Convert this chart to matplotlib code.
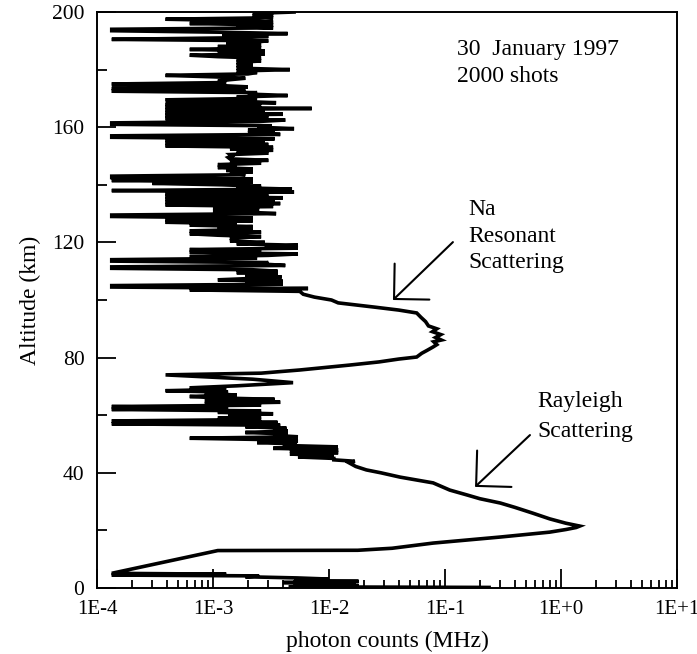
import matplotlib
matplotlib.use("Agg")
import matplotlib.pyplot as plt
from matplotlib.ticker import FixedLocator, FuncFormatter, NullFormatter

# ---- data (altitude in km, photon counts in MHz) ----
ground_alt = [0.2, 0.4, 0.8, 1.1, 1.5, 1.9, 2.3, 2.7, 3.1, 3.5, 3.9, 4.2, 4.5, 4.8, 5.1]
ground_cnt = [0.24, 4.5e-3, 0.018, 5e-3, 0.017, 4e-3, 0.018, 5e-3, 0.010, 5.3e-3, 1.9e-3, 2.5e-3,
              1.34e-4, 1.3e-3, 1.34e-4]

rayleigh_alt = [13.0, 13.1, 13.8, 15.6, 16.6, 17.7, 18.6, 19.4, 20.3, 21.0, 21.5,
                22.5, 24.0, 26.0, 28.0, 29.5, 31.0, 32.3, 34.0, 36.5, 38.5, 40.0, 41.0, 42.2, 43.4]
rayleigh_cnt = [1.1e-3, 0.0177, 0.035, 0.079, 0.15, 0.30, 0.50, 0.80, 1.10, 1.35, 1.45,
                1.10, 0.80, 0.57, 0.40, 0.30, 0.20, 0.155, 0.11, 0.079, 0.041, 0.028, 0.021, 0.017, 0.015]

lower_noise_alt = [44.0, 44.5, 45.0, 45.5, 46.0, 46.5, 47.0, 47.5, 48.0, 48.5, 49.0, 49.5,
                   50.0, 50.5, 51.0, 51.5, 52.0, 52.5, 53.0, 53.5, 54.0, 54.5, 55.0, 55.5,
                   56.0, 56.5, 57.0, 57.5, 58.0, 58.5, 59.0, 59.5, 60.0, 60.5, 61.0, 61.5,
                   62.0, 62.5, 63.0, 63.5, 64.0, 64.5, 65.0, 65.5, 66.0, 66.5, 67.0, 67.5,
                   68.0, 68.5, 69.0, 69.5, 70.2, 71.3, 72.5, 74.0]
lower_noise_cnt = [0.0167, 0.011, 0.011, 5.4e-3, 0.011, 4.6e-3, 0.012, 4.6e-3, 0.012, 3.3e-3, 0.0119, 4.0e-3,
                   5.3e-3, 2.4e-3, 5.4e-3, 3.3e-3, 6.3e-4, 5.4e-3, 3.3e-3, 4.4e-3, 1.9e-3, 4.4e-3, 3.3e-3, 4.3e-3,
                   1.9e-3, 3.8e-3, 1.34e-4, 3.6e-3, 1.34e-4, 2.6e-3, 1.1e-3, 2.6e-3, 1.35e-3, 3.3e-3, 1.1e-3, 2.6e-3,
                   1.34e-4, 1.35e-3, 1.34e-4, 2.6e-3, 8.5e-4, 3.8e-3, 8.5e-4, 3.4e-3, 1.1e-3, 6.3e-4, 1.6e-3, 8.5e-4,
                   1.35e-3, 3.9e-4, 1.3e-3, 6.3e-4, 1.6e-3, 4.9e-3, 2.2e-3, 3.9e-4]

na_alt = [74.6, 75.7, 76.5, 77.4, 78.5, 79.5, 80.2, 81.5, 82.5, 83.7, 84.5, 85.5, 86.1, 87.0,
          88.0, 89.0, 90.0, 91.0, 92.5, 94.0, 95.5, 96.5, 97.5, 99.0, 100.0, 101.0, 102.0, 103.0]
na_cnt = [2.6e-3, 5.6e-3, 9e-3, 0.015, 0.027, 0.040, 0.057, 0.063, 0.070, 0.079, 0.085, 0.080, 0.093, 0.083,
          0.092, 0.078, 0.085, 0.072, 0.068, 0.062, 0.057, 0.040, 0.025, 0.012, 0.0105, 7.5e-3, 6.0e-3, 5.6e-3]

upper_noise_alt = [103.5, 104.0, 104.5, 105.0, 105.5, 106.0, 106.5, 107.0, 107.5, 108.0, 108.5, 109.0,
                   109.5, 110.0, 110.5, 111.0, 111.5, 112.0, 112.5, 113.0, 113.5, 114.0, 114.5, 115.0,
                   115.5, 116.0, 116.5, 117.0, 117.5, 118.0, 118.5, 119.0, 119.5, 120.0, 120.5, 121.0,
                   121.5, 122.0, 122.5, 123.0, 123.5, 124.0, 124.5, 125.0, 125.5, 126.0, 126.5, 127.0,
                   127.5, 128.0, 128.5, 129.0, 129.5, 130.0, 130.5, 131.0, 131.5, 132.0, 132.5, 133.0,
                   133.5, 134.0, 134.5, 135.0, 135.5, 136.0, 136.5, 137.0, 137.5, 138.0, 138.5, 139.0,
                   139.5, 140.0, 140.5, 141.0, 141.5, 142.0, 142.5, 143.0, 143.5, 144.0, 144.5, 145.0,
                   145.5, 146.0, 146.5, 147.0, 147.5, 148.0, 148.5, 149.0, 149.5, 150.0, 150.5, 151.0,
                   151.5, 152.0, 152.5, 153.0, 153.5, 154.0, 154.5, 155.0, 155.5, 156.0, 156.5, 157.0,
                   157.5, 158.0, 158.5, 159.0, 159.5, 160.0, 160.5, 161.0, 161.5, 162.0, 162.5, 163.0,
                   163.5, 164.0, 164.5, 165.0, 165.5, 166.0, 166.5, 167.0, 167.5, 168.0, 168.5, 169.0,
                   169.5, 170.0, 170.5, 171.0, 171.5, 172.0, 172.5, 173.0, 173.5, 174.0, 174.5, 175.0,
                   175.5, 176.0, 176.5, 177.0, 177.5, 178.0, 178.5, 179.0, 179.5, 180.0, 180.5, 181.0,
                   181.5, 182.0, 182.5, 183.0, 183.5, 184.0, 184.5, 185.0, 185.5, 186.0, 186.5, 187.0,
                   187.5, 188.0, 188.5, 189.0, 189.5, 190.0, 190.5, 191.0, 191.5, 192.0, 192.5, 193.0,
                   193.5, 194.0, 194.5, 195.0, 195.5, 196.0, 196.5, 197.0, 197.5, 198.0, 198.5, 199.0,
                   199.5, 200.0]
upper_noise_cnt = [6.3e-4, 6.6e-3, 1.34e-4, 1.34e-4, 4.0e-3, 1.9e-3, 4.0e-3, 1.1e-3, 2.2e-3, 3.9e-3, 1.9e-3, 3.6e-3,
                   1.6e-3, 3.6e-3, 2.2e-3, 1.34e-4, 1.34e-4, 4.2e-3, 2.6e-3, 3.0e-3, 1.34e-4, 1.34e-4, 2.4e-3, 6.3e-4,
                   3.0e-3, 5.4e-3, 6.3e-4, 2.6e-3, 6.3e-4, 5.4e-3, 2.8e-3, 5.4e-3, 1.6e-3, 2.8e-3, 1.4e-3, 1.6e-3,
                   1.4e-3, 2.6e-3, 1.1e-3, 6.3e-4, 2.6e-3, 6.3e-4, 2.2e-3, 1.1e-3, 2.2e-3, 6.3e-4, 1.6e-3, 3.9e-4,
                   2.2e-3, 3.9e-4, 2.2e-3, 1.34e-4, 1.34e-4, 3.5e-3, 1.9e-3, 1.0e-3, 2.5e-3, 1.0e-3, 3.3e-3, 3.9e-4,
                   3.8e-3, 3.9e-4, 3.4e-3, 3.9e-4, 4.0e-3, 3.9e-4, 3.0e-3, 3.9e-4, 5.0e-3, 1.34e-4, 4.8e-3, 1.6e-3,
                   2.6e-3, 1.2e-3, 3.0e-4, 2.2e-3, 1.34e-4, 2.2e-3, 1.34e-4, 1.34e-4, 1.9e-3, 1.4e-3, 2.2e-3, 1.3e-3,
                   2.2e-3, 1.1e-3, 1.6e-3, 1.1e-3, 2.6e-3, 1.4e-3, 3.0e-3, 1.4e-3, 1.35e-3, 1.45e-3, 1.4e-3, 3.0e-3,
                   1.6e-3, 3.3e-3, 1.4e-3, 3.3e-3, 3.9e-4, 3.0e-3, 3.9e-4, 2.8e-3, 3.9e-4, 3.4e-3, 1.34e-4, 1.34e-4,
                   3.8e-3, 2.0e-3, 3.4e-3, 2.0e-3, 5.0e-3, 2.4e-3, 3.2e-3, 1.34e-4, 1.34e-4, 2.5e-3, 4.2e-3, 3.9e-4,
                   3.0e-3, 3.9e-4, 4.0e-3, 3.9e-4, 2.8e-3, 3.9e-4, 7.1e-3, 3.9e-4, 2.6e-3, 3.9e-4, 3.5e-3, 1.6e-3,
                   3.9e-4, 2.4e-3, 1.6e-3, 4.4e-3, 2.0e-3, 2.4e-3, 1.34e-4, 1.9e-3, 1.34e-4, 2.0e-3, 1.1e-3, 1.34e-4,
                   1.3e-3, 1.1e-3, 1.4e-3, 1.9e-3, 1.0e-3, 3.9e-4, 2.0e-3, 2.4e-3, 1.6e-3, 4.6e-3, 1.6e-3, 2.2e-3,
                   1.6e-3, 2.2e-3, 1.6e-3, 2.6e-3, 1.6e-3, 2.6e-3, 1.1e-3, 6.3e-4, 2.8e-3, 1.1e-3, 2.8e-3, 6.3e-4,
                   2.6e-3, 1.1e-3, 2.6e-3, 1.3e-3, 2.2e-3, 3.0e-3, 1.34e-4, 1.3e-3, 3.0e-3, 1.2e-3, 4.4e-3, 1.1e-3,
                   1.34e-4, 1.34e-4, 3.3e-3, 1.6e-3, 3.3e-3, 6.3e-4, 3.3e-3, 1.6e-3, 3.9e-4, 3.3e-3, 2.2e-3, 3.3e-3,
                   2.2e-3, 5.0e-3]

x_tick_values = [1e-4, 1e-3, 1e-2, 1e-1, 1e0, 1e1]
x_tick_labels = ["1E-4", "1E-3", "1E-2", "1E-1", "1E+0", "1E+1"]
y_tick_values = [0, 40, 80, 120, 160, 200]
y_minor_values = [20, 60, 100, 140, 180]

altitude = ground_alt + rayleigh_alt + lower_noise_alt + na_alt + upper_noise_alt
counts = ground_cnt + rayleigh_cnt + lower_noise_cnt + na_cnt + upper_noise_cnt

# ---- figure ----
plt.rcParams['font.family'] = ['Liberation Serif', 'DejaVu Serif']
fig = plt.figure(figsize=(6.97, 6.54), dpi=100)
ax = fig.add_axes([97/697, 66/654, 580/697, 576/654])

ax.plot(counts, altitude, color='black', lw=2.6, solid_joinstyle='miter')

ax.set_xscale('log')
ax.set_xlim(1e-4, 1e1)
ax.set_ylim(0, 200)

ax.xaxis.set_major_locator(FixedLocator(x_tick_values))
ax.xaxis.set_major_formatter(FuncFormatter(
    lambda v, p: x_tick_labels[p] if p is not None and p < len(x_tick_labels) else ""))
minor_x = [m * d for d in x_tick_values[:-1] for m in range(2, 10)]
ax.xaxis.set_minor_locator(FixedLocator(minor_x))
ax.xaxis.set_minor_formatter(NullFormatter())

ax.yaxis.set_major_locator(FixedLocator(y_tick_values))
ax.yaxis.set_minor_locator(FixedLocator(y_minor_values))

ax.tick_params(axis='x', which='major', direction='in', length=13.5, width=1.3, labelsize=15, pad=9)
ax.tick_params(axis='x', which='minor', direction='in', length=5.8, width=1.3)
ax.tick_params(axis='y', which='major', direction='in', length=14, width=1.3, labelsize=15.5, pad=9)
ax.tick_params(axis='y', which='minor', direction='in', length=7, width=1.3)
ax.tick_params(top=False, right=False, which='both')
for s in ax.spines.values():
    s.set_linewidth(1.4)

ax.set_xlabel("photon counts (MHz)", fontsize=17, labelpad=8)
ax.set_ylabel("Altitude (km)", fontsize=17, labelpad=8)

ax.text(0.621, 0.9253, "30  January 1997", transform=ax.transAxes, fontsize=17, va='baseline', ha='left')
ax.text(0.621, 0.8785, "2000 shots", transform=ax.transAxes, fontsize=17, va='baseline', ha='left')

for t, yb in zip(["Na", "Resonant", "Scattering"], [0.6476, 0.6007, 0.5556]):
    ax.text(0.6397, yb, t, transform=ax.transAxes, fontsize=17, va='baseline', ha='left')
for t, yb in zip(["Rayleigh", "Scattering"], [0.3142, 0.2622]):
    ax.text(0.7586, yb, t, transform=ax.transAxes, fontsize=17, va='baseline', ha='left')

arrow_kw = dict(arrowstyle='->,head_length=0.75,head_width=0.75', color='black', lw=1.5,
                mutation_scale=24, shrinkA=0, shrinkB=0)
ax.annotate("", xy=(0.0356, 100.0), xytext=(0.117, 120.1), arrowprops=arrow_kw)
ax.annotate("", xy=(0.1815, 35.1), xytext=(0.54, 53.1), arrowprops=arrow_kw)

fig.savefig("out.png", dpi=100)
